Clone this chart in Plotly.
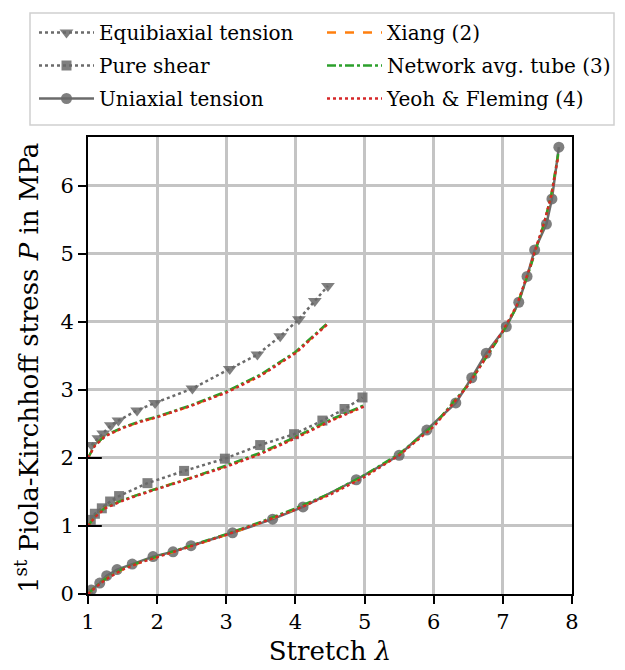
import plotly.graph_objects as go

# Experimental data (stretch, nominal stress in MPa)
uni_stretch = [1.0, 1.05, 1.17, 1.27, 1.42, 1.64, 1.94, 2.23, 2.49, 3.09, 3.67, 4.11,
               4.88, 5.50, 5.90, 6.32, 6.55, 6.76, 7.05, 7.23, 7.35, 7.46, 7.63, 7.71, 7.81]
uni_stress = [0.0, 0.06, 0.16, 0.27, 0.36, 0.44, 0.55, 0.62, 0.71, 0.90, 1.10, 1.28,
              1.68, 2.04, 2.41, 2.81, 3.18, 3.54, 3.93, 4.29, 4.67, 5.06, 5.44, 5.81, 6.57]

ps_stretch = [1.04, 1.10, 1.20, 1.32, 1.45, 1.86, 2.39, 2.98, 3.49, 3.98, 4.39, 4.71, 4.97]
ps_stress = [0.09, 0.18, 0.26, 0.36, 0.44, 0.63, 0.81, 0.99, 1.19, 1.35, 1.55, 1.72, 1.89]

eb_stretch = [1.05, 1.15, 1.22, 1.33, 1.44, 1.71, 1.97, 2.51, 3.05, 3.45, 3.78, 4.05, 4.28, 4.47]
eb_stress = [0.19, 0.29, 0.36, 0.48, 0.55, 0.70, 0.81, 1.02, 1.31, 1.52, 1.79, 2.04, 2.31, 2.53]

# Vertical offsets used to separate the load cases
ps_offset = 1.0
eb_offset = 2.0

# Model predictions
uni_model_stretch = [1.0, 1.1, 1.25, 1.5, 1.75, 2.0, 2.5, 3.0, 3.5, 4.0, 4.5, 5.0, 5.5,
                     6.0, 6.5, 6.8, 7.0, 7.2, 7.4, 7.5, 7.6, 7.7, 7.8]
uni_xiang = [0.0, 0.10, 0.22, 0.36, 0.46, 0.54, 0.70, 0.87, 1.05, 1.25, 1.47, 1.74, 2.05,
             2.47, 3.08, 3.56, 3.86, 4.23, 4.82, 5.15, 5.46, 5.86, 6.45]
uni_network = [0.0, 0.10, 0.22, 0.37, 0.47, 0.55, 0.71, 0.88, 1.06, 1.26, 1.48, 1.75, 2.06,
               2.48, 3.08, 3.55, 3.85, 4.22, 4.81, 5.14, 5.46, 5.87, 6.47]
uni_yeoh = [0.0, 0.09, 0.21, 0.36, 0.46, 0.54, 0.70, 0.87, 1.05, 1.24, 1.46, 1.72, 2.04,
            2.46, 3.07, 3.56, 3.87, 4.24, 4.83, 5.16, 5.47, 5.86, 6.43]

ps_model_stretch = [1.0, 1.05, 1.1, 1.25, 1.5, 1.75, 2.0, 2.5, 3.0, 3.5, 4.0, 4.5, 5.0]
ps_xiang = [0.0, 0.08, 0.14, 0.27, 0.38, 0.47, 0.55, 0.71, 0.88, 1.07, 1.30, 1.55, 1.77]
ps_network = [0.0, 0.08, 0.14, 0.27, 0.38, 0.47, 0.55, 0.71, 0.89, 1.08, 1.31, 1.56, 1.78]
ps_yeoh = [0.0, 0.07, 0.13, 0.26, 0.37, 0.46, 0.54, 0.70, 0.87, 1.06, 1.29, 1.54, 1.76]

eb_model_stretch = [1.0, 1.05, 1.1, 1.25, 1.5, 1.75, 2.0, 2.5, 3.0, 3.5, 4.0, 4.47]
eb_xiang = [0.0, 0.10, 0.19, 0.33, 0.44, 0.53, 0.60, 0.77, 0.97, 1.22, 1.55, 1.98]
eb_network = [0.0, 0.10, 0.19, 0.33, 0.45, 0.54, 0.61, 0.78, 0.98, 1.23, 1.56, 1.99]
eb_yeoh = [0.0, 0.09, 0.18, 0.32, 0.44, 0.53, 0.60, 0.77, 0.96, 1.21, 1.54, 1.97]

FONT = "DejaVu Serif"
GRAY = "#6b6b6b"
MARKER_GRAY = "rgba(105,105,105,0.85)"

W, H = 625, 670
M_L, M_R, M_T, M_B = 88, 53, 137, 76
PLOT_W = W - M_L - M_R
PLOT_H = H - M_T - M_B


def px_to_paper_x(px):
    return (px - M_L) / PLOT_W


def px_to_paper_y(py):
    return (H - M_B - py) / PLOT_H


fig = go.Figure()

# experimental series (left legend column)
fig.add_trace(go.Scatter(
    x=eb_stretch, y=[v + eb_offset for v in eb_stress], mode="lines+markers",
    name="Equibiaxial tension", legend="legend", legendgroup="eb",
    line=dict(color=GRAY, width=2.5, dash="dot"),
    marker=dict(symbol="triangle-down", size=12, color=MARKER_GRAY)))
fig.add_trace(go.Scatter(
    x=ps_stretch, y=[v + ps_offset for v in ps_stress], mode="lines+markers",
    name="Pure shear", legend="legend", legendgroup="ps",
    line=dict(color=GRAY, width=2.5, dash="dot"),
    marker=dict(symbol="square", size=10, color=MARKER_GRAY)))
fig.add_trace(go.Scatter(
    x=uni_stretch, y=uni_stress, mode="lines+markers",
    name="Uniaxial tension", legend="legend", legendgroup="uni",
    line=dict(color=GRAY, width=2.5),
    marker=dict(symbol="circle", size=11, color=MARKER_GRAY)))

# model predictions (right legend column)
models = [
    ("Xiang (2)", "#ff7f0e", "dash", (eb_xiang, ps_xiang, uni_xiang)),
    ("Network avg. tube (3)", "#2ca02c", "dashdot", (eb_network, ps_network, uni_network)),
    ("Yeoh &amp; Fleming (4)", "#d62728", "dot", (eb_yeoh, ps_yeoh, uni_yeoh)),
]
for name, color, dash, (eb_m, ps_m, uni_m) in models:
    curves = [
        (eb_model_stretch, [v + eb_offset for v in eb_m]),
        (ps_model_stretch, [v + ps_offset for v in ps_m]),
        (uni_model_stretch, uni_m),
    ]
    for i, (xs, ys) in enumerate(curves):
        fig.add_trace(go.Scatter(
            x=xs, y=ys, mode="lines", name=name, legendgroup=name, legend="legend2",
            showlegend=(i == 0),
            line=dict(color=color, width=2.4, dash=dash)))

# short markers of the offset baselines
for base in (ps_offset, eb_offset):
    fig.add_shape(type="line", xref="x", yref="y", x0=1.0, x1=1.2, y0=base, y1=base,
                  line=dict(color="black", width=2))

# frame around both legend columns
fig.add_shape(type="rect", xref="paper", yref="paper", layer="below",
              x0=px_to_paper_x(30), x1=px_to_paper_x(614),
              y0=px_to_paper_y(125), y1=px_to_paper_y(13),
              line=dict(color="#d0d0d0", width=1.5), fillcolor="white")

# y-axis title
fig.add_annotation(
    xref="paper", yref="paper", x=px_to_paper_x(27), y=px_to_paper_y(368),
    xanchor="center", yanchor="middle", textangle=-90, showarrow=False,
    text="1<sup>st</sup> Piola-Kirchhoff stress <i>P</i> in MPa",
    font=dict(family=FONT, size=26, color="black"))

axis_common = dict(
    showline=True, linecolor="black", linewidth=2, mirror=True,
    showgrid=True, gridcolor="#c4c4c4", gridwidth=2.5,
    ticks="outside", ticklen=8, tickwidth=1.5, tickcolor="black",
    tickfont=dict(family=FONT, size=21, color="black"),
    zeroline=False,
)

legend_common = dict(
    orientation="v", xref="container", yref="container",
    yanchor="top", xanchor="left", y=1 - 13 / H,
    itemwidth=55, tracegroupgap=4,
    font=dict(family=FONT, size=20, color="black"),
    bgcolor="rgba(0,0,0,0)", borderwidth=0,
)

fig.update_layout(
    width=W, height=H,
    margin=dict(l=M_L, r=M_R, t=M_T, b=M_B, autoexpand=False),
    paper_bgcolor="white", plot_bgcolor="white",
    font=dict(family=FONT, color="black"),
    xaxis=dict(range=[1, 8], tickvals=[1, 2, 3, 4, 5, 6, 7, 8],
               title=dict(text="Stretch <i>λ</i>", font=dict(family=FONT, size=26), standoff=9),
               **axis_common),
    yaxis=dict(range=[0, 6.72], tickvals=[0, 1, 2, 3, 4, 5, 6], **axis_common),
    legend=dict(x=34 / W, **legend_common),
    legend2=dict(x=322 / W, **legend_common),
    showlegend=True,
)

fig.write_html("out.html")
